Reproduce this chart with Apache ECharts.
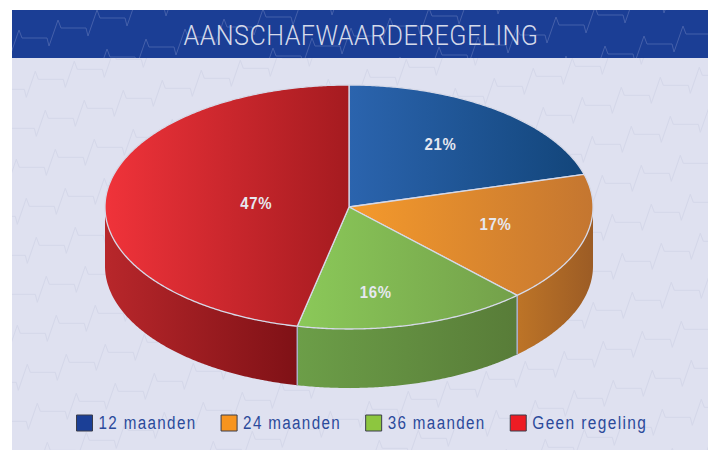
<!DOCTYPE html>
<html><head><meta charset="utf-8">
<style>
html,body{margin:0;padding:0;background:#fff}
#c{width:712px;height:450px}
</style>
<script src="https://cdn.jsdelivr.net/npm/echarts@6/dist/echarts.min.js"></script>
</head><body><div id="c"></div>
<script>
const titleText = 'AANSCHAFWAARDEREGELING';
const categories = ['12 maanden', '24 maanden', '36 maanden', 'Geen regeling'];
const values = [20.7, 17.2, 15.5, 46.6];

const swatchColors = ['#1b3f96', '#f7941e', '#8dc63f', '#ed1c24'];
const topGradients = [['#2b64ae', '#12457a'], ['#f59a2c', '#c47630'], ['#8bc959', '#73a04a'], ['#f0333a', '#a51b20']];
const sideGradients = [['#12457a', '#12457a'], ['#bd7427', '#9c5c25'], ['#6c9e48', '#587c38'], ['#b8272b', '#7f1116']];
const labelOffsets = [[0.375, -0.51], [0.60, 0.14], [0.11, 0.70], [-0.38, -0.03]];
const pie = { cx: 349, cy: 207, rx: 244, ry: 122, depth: 59 };
const fontFamily = '"Liberation Sans", sans-serif';

const total = values.reduce((a, b) => a + b, 0);
function pt(deg, dy) {
  const r = deg * Math.PI / 180;
  return [pie.cx + pie.rx * Math.sin(r), pie.cy - pie.ry * Math.cos(r) + (dy || 0)];
}
function arc(a, b, dy) {
  const out = [], n = Math.max(2, Math.ceil((b - a) * 2));
  for (let i = 0; i <= n; i++) out.push(pt(a + (b - a) * i / n, dy));
  return out;
}
function grad(c) {
  return new echarts.graphic.LinearGradient(0, 0, 1, 0, [{ offset: 0, color: c[0] }, { offset: 1, color: c[1] }]);
}
function sliceRender(i) {
  const start = values.slice(0, i).reduce((a, b) => a + b, 0) / total * 360;
  const end = start + values[i] / total * 360;
  return function () {
    const kids = [];
    const s0 = Math.max(start, 90), s1 = Math.min(end, 270);
    if (s1 > s0) {
      const pts = arc(s0, s1, 0).concat(arc(s0, s1, pie.depth).reverse());
      kids.push({ type: 'polygon', shape: { points: pts }, style: { fill: grad(sideGradients[i]) } });
    }
    [start, end].forEach(a => {
      if (a > 90 && a < 270) {
        const p = pt(a, 0);
        kids.push({ type: 'line', shape: { x1: p[0], y1: p[1], x2: p[0], y2: p[1] + pie.depth },
          style: { stroke: '#aab0c8', lineWidth: 1.5 } });
      }
    });
    const topPts = [[pie.cx, pie.cy]].concat(arc(start, end, 0));
    kids.push({ type: 'polygon', shape: { points: topPts },
      style: { fill: grad(topGradients[i]), stroke: '#d6d9e8', lineWidth: 1.3, lineJoin: 'round' } });
    kids.push({ type: 'text', z2: 10, style: {
      text: Math.round(values[i]) + '%',
      x: pie.cx + labelOffsets[i][0] * pie.rx,
      y: pie.cy + labelOffsets[i][1] * pie.ry,
      align: 'center', verticalAlign: 'middle',
      fill: '#e6e8f0', font: 'bold 17px ' + fontFamily } });
    return { type: 'group', children: kids };
  };
}

function backdrop() {
  const cv = document.createElement('canvas');
  cv.width = 712; cv.height = 450;
  const g = cv.getContext('2d');
  g.fillStyle = '#fff'; g.fillRect(0, 0, 712, 450);
  function zone(x, y, w, h, fill, line, ox, oy) {
    g.save(); g.beginPath(); g.rect(x, y, w, h); g.clip();
    g.fillStyle = fill; g.fillRect(x, y, w, h);
    g.strokeStyle = line; g.lineWidth = 1;
    for (let k = -12; k <= 14; k++) {
      let px = ox + 10 * k - 39 * 22, py = oy + 39 * k + 10 * 22;
      g.beginPath(); g.moveTo(px, py);
      for (let m = 0; m < 44; m++) {
        px += 25; g.lineTo(px, py);
        px += 2; py += 8; g.lineTo(px, py);
        px += 9; py -= 26; g.lineTo(px, py);
        px += 3; py += 8; g.lineTo(px, py);
      }
      g.stroke();
    }
    g.restore();
  }
  zone(12, 58, 696, 392, '#dfe1f0', '#d4d7e9', 48.3, 118.3);
  zone(12, 10, 696, 48, '#1b3e95', '#4560aa', 647, 44);
  return cv;
}

const chart = echarts.init(document.getElementById('c'), null, { renderer: 'svg', width: 712, height: 450 });
chart.setOption({
  animation: false,
  backgroundColor: '#fff',
  title: { text: titleText, left: 356, top: 16, textAlign: 'center',
    textStyle: { color: '#d5daea', fontWeight: 300, fontSize: 28, fontFamily: 'Roboto, ' + fontFamily } },
  graphic: [{ type: 'image', z: -10, silent: true, style: { image: backdrop(), x: 0, y: 0, width: 712, height: 450 } }],
  legend: {
    left: 76, top: 414, padding: 0, itemWidth: 16, itemHeight: 16, itemGap: 22, icon: 'rect',
    data: categories.map((n, i) => ({ name: n, itemStyle: { color: swatchColors[i], borderColor: '#3a3d4a', borderWidth: 1 } })),
    textStyle: { color: '#2b4a9b', fontSize: 18, padding: [2, 0, 0, 1], fontFamily: fontFamily }
  },
  series: categories.map((n, i) => ({
    type: 'custom', name: n, coordinateSystem: 'none', silent: true,
    itemStyle: { color: swatchColors[i] },
    data: [values[i]], renderItem: sliceRender(i)
  }))
});

// The reference's condensed, tracked lettering: fit each SVG text to its width.
const textFit = {};
textFit[titleText] = [355, 0.5];
categories.forEach((n, i) => { textFit[n] = [i === 3 ? 115 : 98, 1.6]; });
values.forEach(v => { textFit[Math.round(v) + '%'] = [32, 0.8]; });
function fitTexts() {
  document.querySelectorAll('#c text').forEach(t => {
    const f = textFit[t.textContent];
    if (!f) return;
    t.style.letterSpacing = f[1] + 'px';
    t.setAttribute('textLength', f[0]);
    t.setAttribute('lengthAdjust', 'spacingAndGlyphs');
  });
}
fitTexts();
chart.on('finished', fitTexts);
</script></body></html>
